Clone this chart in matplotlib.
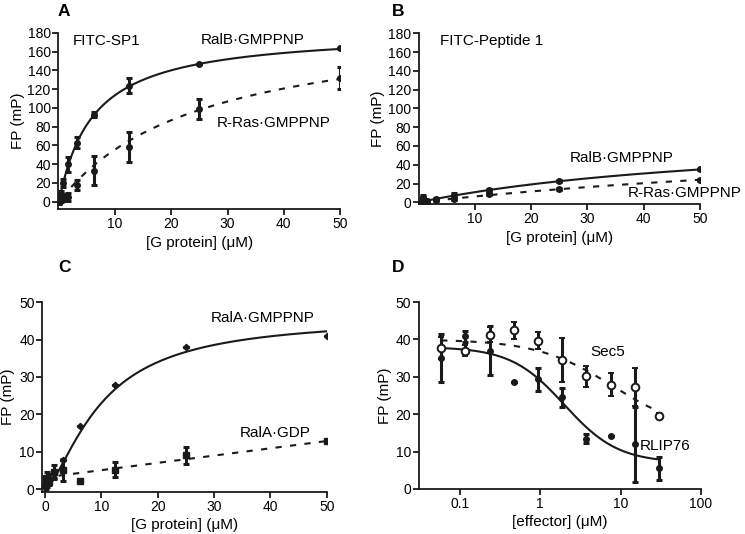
import numpy as np
import matplotlib
matplotlib.use("Agg")
import matplotlib.pyplot as plt

plt.rcParams['font.family'] = ['Liberation Sans', 'DejaVu Sans']

# ---------------- data ----------------
conc = [50, 25, 12.5, 6.25, 3.125, 1.5625, 0.78, 0.39, 0.195, 0.0]

# Panel A (FITC-SP1)
a_ralb = [164, 147, 123.5, 93, 63, 40, 20, 8, 4, 0]
a_ralb_err = [0, 0, 8, 3, 6, 8, 4, 3, 3, 2]
a_rras = [132, 99, 58, 33, 18, 5, 4, 2, 1, 0]
a_rras_err = [11.5, 11, 16, 15.5, 5.5, 4, 3, 2, 1, 1]
a_ralb_fit = [182.8, 6.07]     # Bmax, Kd
a_rras_fit = [197.5, 25.4]

# Panel B (FITC-Peptide 1)
b_ralb = [35, 22.5, 13, 8, 3.5, 1.5, 6, 1, 0.5, 0]
b_ralb_err = [1, 1, 1.5, 1.5, 1, 1, 1.5, 1, 1, 1]
b_rras = [24, 14, 8.5, 4, 2.5, 1.5, 1, 0.5, 0, 0]
b_rras_err = [1, 1, 1, 1, 1, 1, 1, 1, 1, 1]
b_ralb_fit = [78.8, 62.6]
b_rras_fit = [84.0, 125.0]

# Panel C
c_gmppnp = [41, 38, 27.9, 16.8, 7.8, 4, 3, 2, 1, 0.5]
c_gmppnp_err = [0, 0, 0, 0, 0, 1, 1, 1.5, 1, 2.5]
c_gdp = [12.9, 9, 5.2, 2.1, 5.1, 4.5, 2, 3, 2.5, 1]
c_gdp_err = [0, 2.3, 2, 0, 3, 1.8, 1, 1.5, 1, 2.5]
c_gmppnp_fit = [46.0, 10.0, 1.5]   # Bmax, K, Hill
c_gdp_fit = [3.1, 0.195]          # intercept, slope

# Panel D
eff = [0.0586, 0.117, 0.234, 0.469, 0.9375, 1.875, 3.75, 7.5, 15, 30]
d_rlip = [35, 40.8, 37, 28.6, 29.3, 24.5, 13.5, 14.2, 12, 5.5]
d_rlip_err = [6.5, 1.5, 6.5, 0, 3, 2.5, 1.3, 0, 10, 3]
d_sec5 = [37.7, 37, 41.2, 42.4, 39.7, 34.5, 30.1, 27.9, 27.3, 19.4]
d_sec5_err = [3, 1.5, 2, 2.3, 2.4, 6, 2.8, 3, 5, 0.8]
d_rlip_fit = [38.0, 7.0, 2.0, 1.3]    # top, bottom, IC50, Hill
d_sec5_fit = [40.0, 15.0, 8.0, 0.92]

W, H = 745, 534
fig = plt.figure(figsize=(W / 100, H / 100), dpi=100)

TFS = 10      # tick labels
LFS = 11      # axis labels
AFS = 11      # annotations
PFS = 12.5    # panel letters
INK = '#1a1a1a'


def add_ax(left, right, top, bottom):
    return fig.add_axes([left / W, (H - bottom) / H, (right - left) / W, (bottom - top) / H])


def style(ax):
    for s in ['top', 'right']:
        ax.spines[s].set_visible(False)
    for s in ['left', 'bottom']:
        ax.spines[s].set_linewidth(1.3)
        ax.spines[s].set_color(INK)
    ax.tick_params(direction='out', length=4, width=1.3, labelsize=TFS, pad=1.5, color=INK)
    ax.tick_params(which='minor', length=0)


LW = 1.5
EB = dict(elinewidth=2.2, capsize=2.3, capthick=2.2, color=INK, ecolor=INK)
DASH = (0, (3, 4))


def hyper(p, x):
    return p[0] * x / (p[1] + x)


# ---------------- Panel A ----------------
ax = add_ax(58.3, 340, 33, 209.2)
style(ax)
ax.set_xlim(-0.12, 50)
ax.set_ylim(-8, 180)
x = np.linspace(0, 50, 300)
ax.plot(x, hyper(a_ralb_fit, x), color=INK, lw=LW)
x = np.linspace(0.5, 50, 300)
ax.plot(x, hyper(a_rras_fit, x), color=INK, lw=LW, ls=DASH)
ax.errorbar(conc, a_ralb, yerr=a_ralb_err, fmt='o', ms=4, **EB)
ax.errorbar(conc, a_rras, yerr=a_rras_err, fmt='o', ms=4, **EB)
ax.set_xticks([10, 20, 30, 40, 50])
ax.set_yticks(range(0, 181, 20))
ax.set_xlabel('[G protein] (\u03bcM)', fontsize=LFS, labelpad=4)
ax.set_ylabel('FP (mP)', fontsize=LFS, labelpad=2)
ax.text(2.5, 171.5, 'FITC-SP1', fontsize=AFS, va='center')
ax.text(25.2, 172, 'RalB\u00b7GMPPNP', fontsize=AFS, va='center')
ax.text(28, 84, 'R-Ras\u00b7GMPPNP', fontsize=AFS, va='center')
fig.text(58 / W, 1 - 12 / H, 'A', fontsize=PFS, fontweight='bold', va='center', ha='left')

# ---------------- Panel B ----------------
ax = add_ax(418.7, 700, 33.3, 204.2)
style(ax)
ax.set_xlim(0, 50)
ax.set_ylim(-2, 180)
x = np.linspace(0, 50, 300)
ax.plot(x, hyper(b_ralb_fit, x), color=INK, lw=LW)
ax.plot(x, hyper(b_rras_fit, x), color=INK, lw=LW, ls=DASH)
ax.errorbar(conc, b_ralb, yerr=b_ralb_err, fmt='o', ms=4, **EB)
ax.errorbar(conc, b_rras, yerr=b_rras_err, fmt='o', ms=4, **EB)
ax.set_xticks([10, 20, 30, 40, 50])
ax.set_yticks(range(0, 181, 20))
ax.set_xlabel('[G protein] (\u03bcM)', fontsize=LFS, labelpad=4)
ax.set_ylabel('FP (mP)', fontsize=LFS, labelpad=2)
ax.text(3.8, 172, 'FITC-Peptide 1', fontsize=AFS, va='center')
ax.text(26.9, 47, 'RalB\u00b7GMPPNP', fontsize=AFS, va='center')
ax.text(37.2, 9.8, 'R-Ras\u00b7GMPPNP', fontsize=AFS, va='center')
fig.text(392 / W, 1 - 12 / H, 'B', fontsize=PFS, fontweight='bold', va='center', ha='left')

# ---------------- Panel C ----------------
ax = add_ax(42.3, 326.7, 302.3, 492)
style(ax)
ax.set_xlim(-0.48, 50)
ax.set_ylim(-0.8, 50)
x = np.linspace(1.2, 50, 300)
p = c_gmppnp_fit
ax.plot(x, p[0] * x ** p[2] / (p[1] ** p[2] + x ** p[2]), color=INK, lw=LW)
x = np.linspace(2.4, 50, 100)
ax.plot(x, c_gdp_fit[0] + c_gdp_fit[1] * x, color=INK, lw=LW, ls=DASH)
ax.errorbar(conc, c_gmppnp, yerr=c_gmppnp_err, fmt='D', ms=3.2, **EB)
ax.errorbar(conc, c_gdp, yerr=c_gdp_err, fmt='s', ms=4.5, **EB)
ax.set_xticks([0, 10, 20, 30, 40, 50])
ax.set_yticks(range(0, 51, 10))
ax.set_xlabel('[G protein] (\u03bcM)', fontsize=LFS, labelpad=3)
ax.set_ylabel('FP (mP)', fontsize=LFS, labelpad=3)
ax.text(29.5, 45.7, 'RalA\u00b7GMPPNP', fontsize=AFS, va='center')
ax.text(34.6, 15, 'RalA\u00b7GDP', fontsize=AFS, va='center')
fig.text(58 / W, 1 - 268 / H, 'C', fontsize=PFS, fontweight='bold', va='center', ha='left')

# ---------------- Panel D ----------------
ax = add_ax(419, 701, 302, 489)
style(ax)
ax.set_xscale('log')
ax.set_xlim(0.031, 100)
ax.set_ylim(0, 50)
x = np.logspace(np.log10(0.0586), np.log10(30), 300)
p = d_rlip_fit
ax.plot(x, p[1] + (p[0] - p[1]) / (1 + (x / p[2]) ** p[3]), color=INK, lw=LW)
p = d_sec5_fit
ax.plot(x, p[1] + (p[0] - p[1]) / (1 + (x / p[2]) ** p[3]), color=INK, lw=LW, ls=DASH)
ax.errorbar(eff, d_rlip, yerr=d_rlip_err, fmt='o', ms=4, **EB)
ax.errorbar(eff, d_sec5, yerr=d_sec5_err, fmt='o', ms=5.5, mfc='white', mec=INK, mew=1.4,
            elinewidth=2.2, capsize=2.3, capthick=2.2, ecolor=INK)
ax.set_xticks([0.1, 1, 10, 100])
ax.set_xticklabels(['0.1', '1', '10', '100'])
ax.xaxis.set_minor_locator(matplotlib.ticker.NullLocator())
ax.set_yticks(range(0, 51, 10))
ax.set_xlabel('[effector] (\u03bcM)', fontsize=LFS, labelpad=3)
ax.set_ylabel('FP (mP)', fontsize=LFS, labelpad=3)
ax.text(4.2, 36.6, 'Sec5', fontsize=AFS, va='center')
ax.text(17.5, 11.5, 'RLIP76', fontsize=AFS, va='center')
fig.text(392 / W, 1 - 268 / H, 'D', fontsize=PFS, fontweight='bold', va='center', ha='left')

fig.savefig('out.png', dpi=100)
